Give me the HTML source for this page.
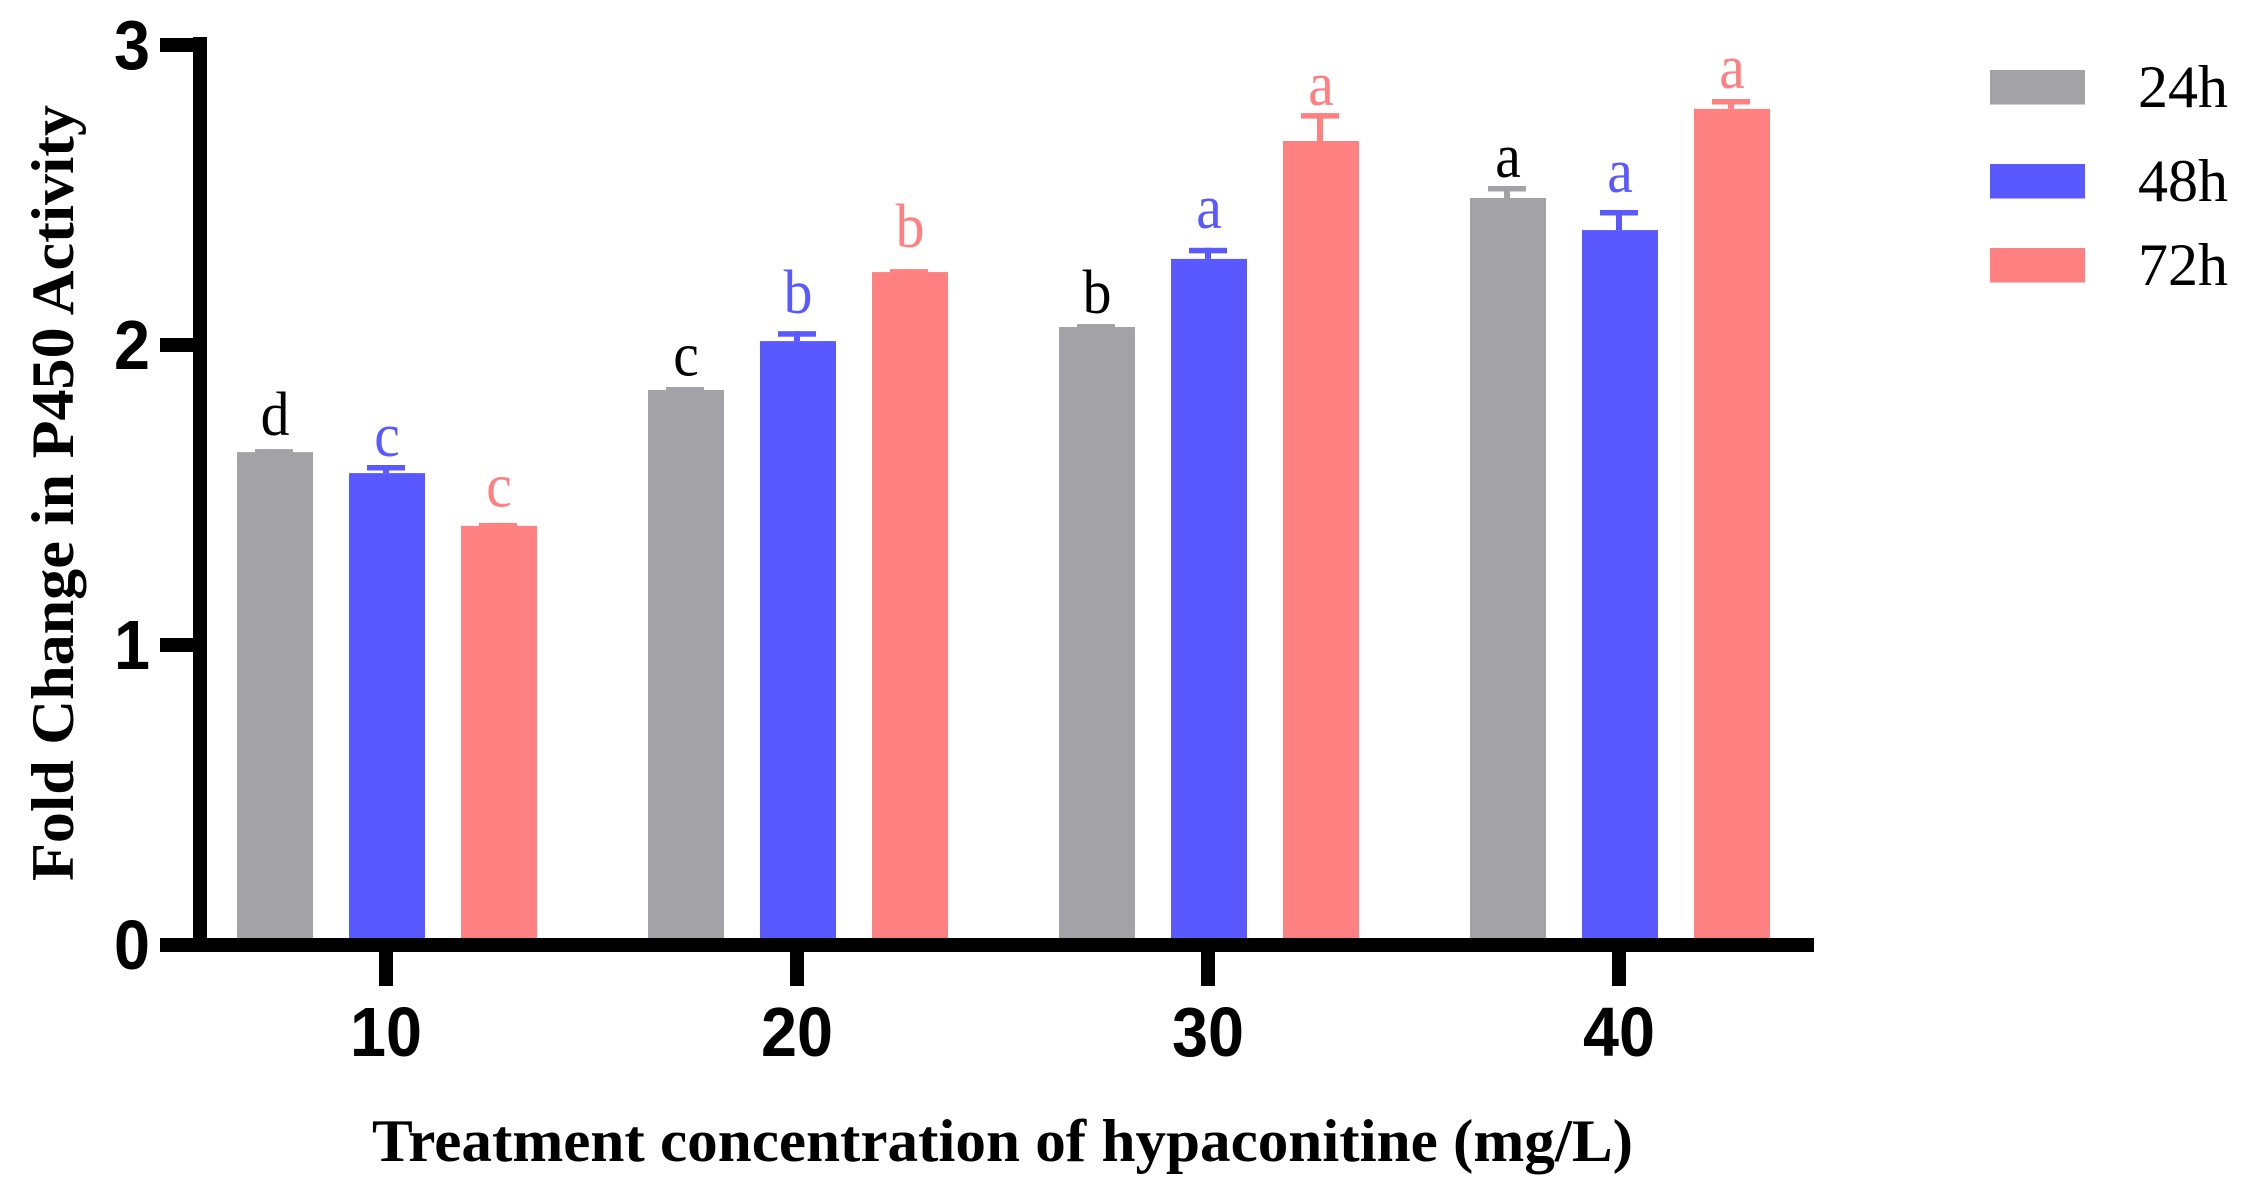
<!DOCTYPE html>
<html lang="en">
<head>
<meta charset="utf-8">
<title>Fold Change in P450 Activity</title>
<style>
html,body{margin:0;padding:0;background:#fff;width:2241px;height:1187px;overflow:hidden}
svg{display:block}
text{fill:#000}
.serif{font-family:"Liberation Serif",serif}
.sans{font-family:"Liberation Sans",sans-serif;font-weight:700}
</style>
</head>
<body>
<svg id="chart" xmlns="http://www.w3.org/2000/svg" width="2241" height="1187" viewBox="0 0 2241 1187">
  <rect x="0" y="0" width="2241" height="1187" fill="#fff"/>
  <g id="bars"></g>
  <g id="axes"></g>
  <g id="letters"></g>
  <g id="legend"></g>
  <text class="serif" x="372" y="1161" font-size="60" font-weight="700" textLength="1261" lengthAdjust="spacingAndGlyphs">Treatment concentration of hypaconitine (mg/L)</text>
  <text class="serif" transform="translate(73 881) rotate(-90)" font-size="60" font-weight="700" textLength="776" lengthAdjust="spacingAndGlyphs">Fold Change in P450 Activity</text>
</svg>
<script>
const categories = ['10', '20', '30', '40'];
const seriesNames = ['24h', '48h', '72h'];
const seriesColors = ['#a3a2a7', '#5959ff', '#ff8080'];
const letterColors = ['#000000', '#5959ff', '#ff8080'];
const yTicks = [0, 1, 2, 3];

const values24h = [1.643, 1.85, 2.06, 2.49];
const values48h = [1.573, 2.013, 2.287, 2.383];
const values72h = [1.397, 2.243, 2.68, 2.787];

const errors24h = [0.01, 0.01, 0.01, 0.04];
const errors48h = [0.027, 0.033, 0.037, 0.067];
const errors72h = [0.01, 0.01, 0.093, 0.033];

const letters24h = ['d', 'c', 'b', 'a'];
const letters48h = ['c', 'b', 'a', 'a'];
const letters72h = ['c', 'b', 'a', 'a'];

const letterLevels24h = [1.70, 1.898, 2.107, 2.56];
const letterLevels48h = [1.63, 2.107, 2.39, 2.51];
const letterLevels72h = [1.462, 2.327, 2.80, 2.857];

const allValues = [values24h, values48h, values72h];
const allErrors = [errors24h, errors48h, errors72h];
const allLetters = [letters24h, letters48h, letters72h];
const allLevels = [letterLevels24h, letterLevels48h, letterLevels72h];

const NS = 'http://www.w3.org/2000/svg';
const AXIS_T = 14;
const BAR_W = 76;
const CAP_W = 38;
const CAP_T = 5.5;
const STEM_W = 6;
const TICK_DIGIT_W = 36;

function yScale(v) { return 945 - 300 * v; }
function xCenter(i) { return 386 + 411 * i; }
function xBar(i, s) { return 275 + 411 * i + 112 * s; }

function make(tag, parent, attrs, txt) {
  const el = document.createElementNS(NS, tag);
  for (const k in attrs) el.setAttribute(k, attrs[k]);
  if (txt !== undefined) el.textContent = txt;
  parent.appendChild(el);
  return el;
}

const barsG = document.getElementById('bars');
const axesG = document.getElementById('axes');
const lettersG = document.getElementById('letters');
const legendG = document.getElementById('legend');

allValues.forEach(function (vals, s) {
  vals.forEach(function (v, i) {
    const cx = xBar(i, s);
    const top = yScale(v);
    const capTop = yScale(v + allErrors[s][i]);

    const bar = make('rect', barsG, { x: cx - BAR_W / 2, y: top, width: BAR_W, height: 945 - top, fill: seriesColors[s] });
    
    

    const stem = make('rect', barsG, { x: cx - 1 - STEM_W / 2, y: capTop, width: STEM_W, height: top - capTop, fill: seriesColors[s] });
    
    

    const cap = make('rect', barsG, { x: cx - 1 - CAP_W / 2, y: capTop, width: CAP_W, height: CAP_T, fill: seriesColors[s] });
    
    

    const letter = make('text', lettersG, { x: cx, y: yScale(allLevels[s][i]), 'font-size': 62, 'text-anchor': 'middle', class: 'serif', style: 'fill:' + letterColors[s] }, allLetters[s][i]);
    
    
    letter.setAttribute('textLength', (letter.getComputedTextLength() * 0.93).toFixed(2));
    letter.setAttribute('lengthAdjust', 'spacingAndGlyphs');
  });
});

const yAxisLine = make('rect', axesG, { x: 193, y: 37, width: AXIS_T, height: 915, fill: '#000' });



const xAxisLine = make('rect', axesG, { x: 160, y: 938, width: 1654, height: AXIS_T, fill: '#000' });



yTicks.forEach(function (t) {
  const y = yScale(t);
  const tick = make('rect', axesG, { x: 160, y: y - AXIS_T / 2, width: 33, height: AXIS_T, fill: '#000' });
  
  
  const label = make('text', axesG, { x: 150, y: y + 24, 'font-size': 70, 'text-anchor': 'end', class: 'sans', textLength: TICK_DIGIT_W, lengthAdjust: 'spacingAndGlyphs' }, String(t));
  
  
});

categories.forEach(function (c, i) {
  const x = xCenter(i);
  const tick = make('rect', axesG, { x: x - AXIS_T / 2, y: 952, width: AXIS_T, height: 34, fill: '#000' });
  
  
  const label = make('text', axesG, { x: x, y: 1056, 'font-size': 70, 'text-anchor': 'middle', class: 'sans', textLength: TICK_DIGIT_W * c.length, lengthAdjust: 'spacingAndGlyphs' }, c);
  
  
});

const legendTop = [70, 164, 248];
seriesNames.forEach(function (n, s) {
  const swatch = make('rect', legendG, { x: 1990, y: legendTop[s], width: 95, height: 34.5, fill: seriesColors[s] });
  
  
  const label = make('text', legendG, { x: 2138, y: legendTop[s] + 37, 'font-size': 60, class: 'serif', textLength: 90, lengthAdjust: 'spacingAndGlyphs' }, n);
  
  
});
</script>
</body>
</html>
